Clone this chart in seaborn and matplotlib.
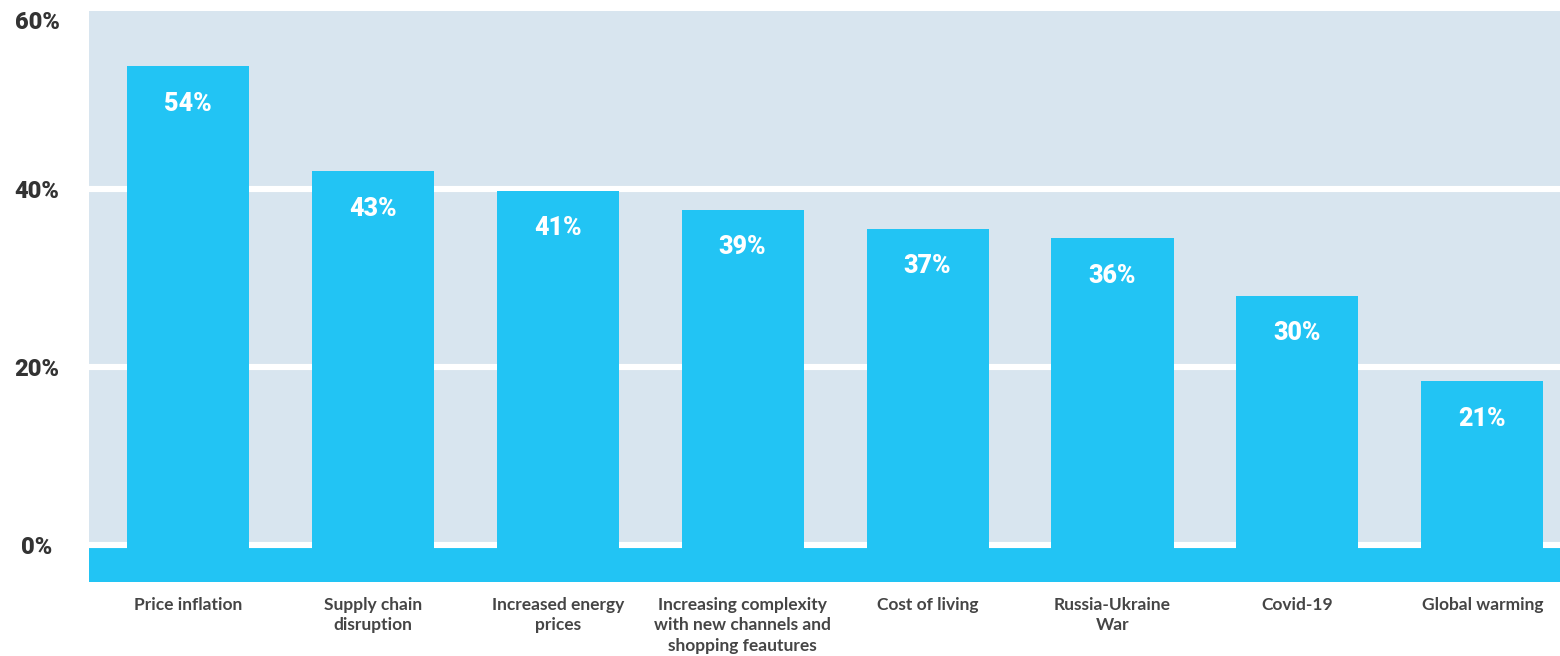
import matplotlib
matplotlib.use("Agg")
import matplotlib.pyplot as plt
import seaborn as sns

categories = [
    "Price inflation",
    "Supply chain\ndisruption",
    "Increased energy\nprices",
    "Increasing complexity\nwith new channels and\nshopping feautures",
    "Cost of living",
    "Russia-Ukraine\nWar",
    "Covid-19",
    "Global warming",
]
values = [54, 43, 41, 39, 37, 36, 30, 21]
value_labels = ["54%", "43%", "41%", "39%", "37%", "36%", "30%", "21%"]
yticks = [0, 20, 40, 60]
ytick_labels = ["0%", "20%", "40%", "60%"]

BAR = "#22C4F4"
BG = "#D8E5EF"
DARK = "#333333"
XLAB = "#454545"

sns.set_theme(style="white")
plt.rcParams["font.family"] = ["Roboto", "DejaVu Sans"]

W, H = 1560, 656
fig = plt.figure(figsize=(W / 100, H / 100), dpi=100)
rect = [89 / W, (H - 582) / H, 1 - 89 / W, 571 / H]

# background grid axes
ax_grid = fig.add_axes(rect)
ax_grid.set_facecolor(BG)
ax_grid.set_xlim(0, 1)
ax_grid.set_ylim(-4.2, 60)
ax_grid.axhspan(-4.2, 0, color=BAR, lw=0, zorder=1)
for t in yticks[:-1]:
    ax_grid.axhline(t, color="white", lw=4.4, zorder=2)
ax_grid.set_yticks(yticks)
ax_grid.set_yticklabels(ytick_labels)
ax_grid.set_xticks([])
ax_grid.tick_params(axis="y", length=0, pad=37.4, labelsize=17, labelcolor=DARK)
for lab in ax_grid.get_yticklabels():
    lab.set_fontweight("black")
    lab.set_horizontalalignment("center")
ax_grid.get_yticklabels()[-1].set_verticalalignment("top")
for s in ax_grid.spines.values():
    s.set_visible(False)

# bars axes
ax = fig.add_axes(rect)
ax.patch.set_alpha(0)
sns.barplot(x=categories, y=values, color=BAR, saturation=1, width=0.66, ax=ax,
            edgecolor="none", linewidth=0)
ax.set_xlim(-0.535, 7.42)
ax.set_ylim(0, 59.8)
ax.set_yticks([])
ax.set_ylabel("")
ax.set_xlabel("")
for s in ax.spines.values():
    s.set_visible(False)
ax.tick_params(axis="x", length=0, pad=10.5)
for lab in ax.get_xticklabels():
    lab.set_fontfamily(["Lato", "DejaVu Sans"])
    lab.set_fontweight("bold")
    lab.set_fontsize(12.5)
    lab.set_color(XLAB)
    lab.set_linespacing(1.36)

for i, (v, txt) in enumerate(zip(values, value_labels)):
    ax.annotate(txt, xy=(i, v), xytext=(0, -27), textcoords="offset points",
                ha="center", va="center", color="white", fontsize=18,
                fontweight="black")

fig.savefig("out.png", dpi=100)
